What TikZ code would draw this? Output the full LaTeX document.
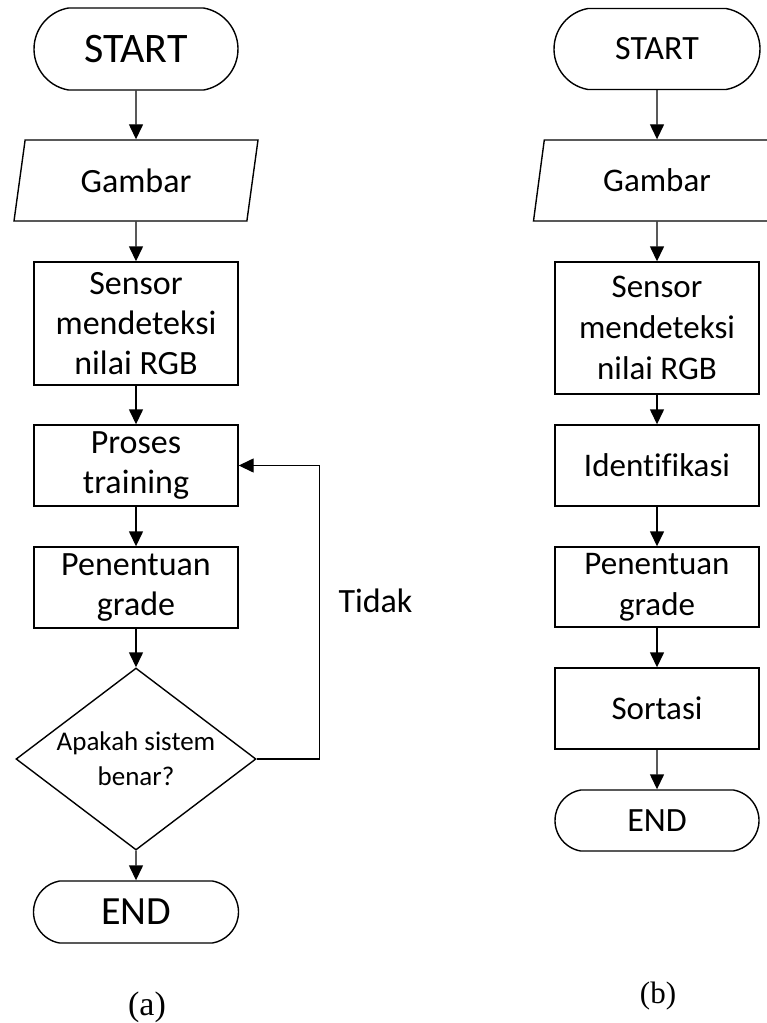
\documentclass[tikz,border=0pt]{standalone}
\usepackage{fontspec}
\setmainfont{Carlito}[Ligatures=NoCommon]
\newfontfamily\labelfont{Liberation Serif}
\usetikzlibrary{shapes.geometric,shapes.misc,arrows.meta}

\begin{document}
\begin{tikzpicture}[x=1pt, y=-1pt, line width=1.4pt,
	>={Triangle[length=15pt,width=14pt]},
	term/.style={draw, rounded rectangle, rounded rectangle arc length=160, minimum width=204pt, minimum height=82pt, inner sep=0pt},
	proc/.style={draw, rectangle, minimum width=204pt, align=center, inner sep=0pt},
	io/.style={draw, trapezium, trapezium left angle=65, trapezium right angle=115, trapezium stretches body, minimum width=244pt, minimum height=81pt, inner sep=0pt},
	dec/.style={draw, diamond, aspect=1.32, minimum width=240pt, minimum height=182pt, inner sep=0pt, align=center},
	txt/.style={font={\fontsize{34}{40}\selectfont}},
	txtb/.style={font={\fontsize{33}{41}\selectfont}}]
			\useasboundingbox (0,0) rectangle (766,1023);
			%flowchart (a): training
			\node[term, font={\fontsize{42}{46}\selectfont}] (startA) at (136,49) {START};
			\node[io, txt] (gambarA) at (136,180.5) {Gambar};
			\node[proc, txt, minimum height=123pt] (sensorA) at (136,323.5) {Sensor\\mendeteksi\\nilai RGB};
			\node[proc, txt, minimum height=81pt] (training) at (136,465.5) {Proses\\training};
			\node[proc, txt, minimum height=81pt] (gradeA) at (136,587.5) {Penentuan\\grade};
			\node[dec, font={\fontsize{27}{35}\selectfont}] (cek) at (136,759) {Apakah sistem\\benar?};
			\node[term, font={\fontsize{40}{44}\selectfont}, minimum width=205pt, minimum height=62pt] (endA) at (136,912) {END};
			\draw[->] (startA) -- (gambarA);
			\draw[->] (gambarA) -- (sensorA);
			\draw[->] (sensorA) -- (training);
			\draw[->] (training) -- (gradeA);
			\draw[->] (gradeA) -- (cek);
			\draw[->] (cek) -- (endA);
			%loop back when the answer is no
			\draw[->] (cek.east) -- ++(63,0) |- (training.east);
			\node[txt, anchor=base] (tidak) at (375.5,612) {Tidak};
			%flowchart (b): sorting
			\node[term, font={\fontsize{34}{38}\selectfont}, minimum width=206pt, minimum height=81pt] (startB) at (657,49) {START};
			\node[io, txtb, minimum width=247pt] (gambarB) at (657,180.5) {Gambar};
			\node[proc, txtb, minimum height=132pt] (sensorB) at (657,328) {Sensor\\mendeteksi\\nilai RGB};
			\node[proc, txtb, minimum height=81pt] (identifikasi) at (657,465.5) {Identifikasi};
			\node[proc, txtb, minimum height=80pt] (gradeB) at (657,587) {Penentuan\\grade};
			\node[proc, txtb, minimum height=81pt] (sortasi) at (657,708.5) {Sortasi};
			\node[term, font={\fontsize{34}{38}\selectfont}, minimum height=61pt] (endB) at (657,820.5) {END};
			\draw[->] (startB) -- (gambarB);
			\draw[->] (gambarB) -- (sensorB);
			\draw[->] (sensorB) -- (identifikasi);
			\draw[->] (identifikasi) -- (gradeB);
			\draw[->] (gradeB) -- (sortasi);
			\draw[->] (sortasi) -- (endB);
			%captions
			\node[anchor=base, font={\labelfont\fontsize{34}{40}\selectfont}] (capA) at (147,1015) {(a)};
			\node[anchor=base, font={\labelfont\fontsize{31}{36}\selectfont}] (capB) at (658,1003) {(b)};
		\end{tikzpicture}
\end{document}
